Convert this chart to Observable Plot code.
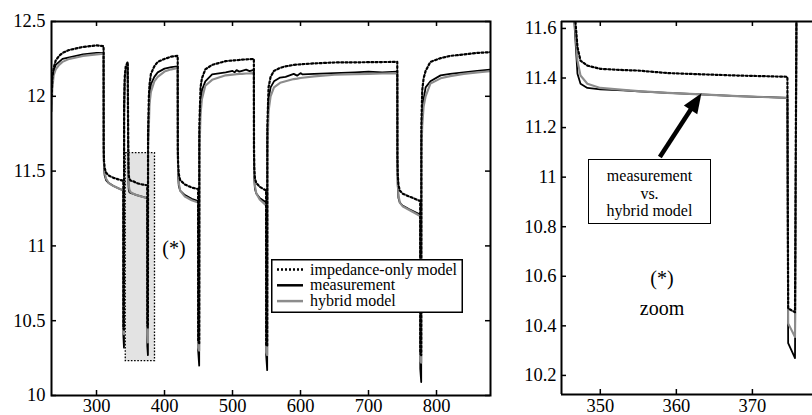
<!DOCTYPE html>
<html><head><meta charset="utf-8">
<script src="https://cdn.jsdelivr.net/npm/d3@7"></script>
<script src="https://cdn.jsdelivr.net/npm/@observablehq/plot@0.6"></script>
<style>
body{margin:0;background:#fff;}
#wrap{position:relative;width:812px;height:415px;overflow:hidden;display:flex;font-family:'Liberation Serif',serif;color:#000;background:#fff;}
.ann{position:absolute;white-space:nowrap;line-height:1;font-family:'Liberation Serif',serif;}
</style></head><body><div id="wrap"></div>
<script>
// ---- data (time in s, voltage in V) ----
const t = [234,235,237,240,245,250,260,270,280,290,300,310.4,
310.6,311,312,314,318,325,332,339.4,
339.5,340.4,
340.6,341.5,343,345.9,
346.6,347,347.4,348.3,350,353,355,358.8,363.2,368,374.6,
374.7,375.6,
375.8,377,378,380,385,390,400,410,419.4,
419.6,420,421,423,430,440,449.4,
449.5,451,
451.2,453,455,460,470,490,500,503,506,510,514,520,525,531.4,
531.6,532,533,535,540,549.4,
549.5,551,
551.2,553,556,561,570,578,590,595,600,603,620,650,680,700,720,742.3,
742.5,743,744,746,750,760,776,
776.1,777.5,
777.7,779,781,784,791,806,820,840,860,879.4];

const measurement = [11.95,12.10,12.17,12.21,12.23,12.25,12.26,12.27,12.28,12.285,12.29,12.29,
11.60,11.52,11.47,11.44,11.42,11.40,11.385,11.37,
10.40,10.32,
11.90,12.10,12.18,12.21,
11.62,11.417,11.377,11.36,11.354,11.35,11.346,11.34,11.334,11.327,11.32,
10.33,10.27,
11.70,11.90,12.00,12.08,12.13,12.16,12.185,12.195,12.20,
11.60,11.47,11.40,11.37,11.34,11.315,11.30,
10.30,10.20,
11.70,11.95,12.04,12.10,12.146,12.16,12.17,12.16,12.175,12.165,12.17,12.178,12.168,12.177,
11.60,11.45,11.38,11.35,11.32,11.29,
10.27,10.17,
11.70,11.98,12.06,12.10,12.125,12.13,12.15,12.138,12.155,12.146,12.15,12.155,12.16,12.165,12.16,12.165,
11.55,11.40,11.32,11.29,11.27,11.245,11.21,
10.18,10.09,
11.70,11.88,11.98,12.06,12.10,12.14,12.15,12.16,12.17,12.178];

const hybrid = [11.90,12.05,12.14,12.18,12.21,12.23,12.25,12.26,12.27,12.275,12.28,12.285,
11.65,11.55,11.49,11.45,11.42,11.40,11.385,11.37,
10.42,10.41,
11.85,12.07,12.16,12.20,
11.64,11.47,11.41,11.377,11.36,11.352,11.347,11.34,11.334,11.327,11.32,
10.41,10.355,
11.65,11.80,11.95,12.03,12.10,12.13,12.165,12.18,12.19,
11.62,11.50,11.42,11.37,11.33,11.305,11.29,
10.32,10.30,
11.60,11.88,11.98,12.07,12.11,12.14,12.145,12.146,12.148,12.15,12.15,12.152,12.153,12.155,
11.62,11.48,11.40,11.35,11.31,11.27,
10.29,10.27,
11.60,11.90,12.00,12.06,12.09,12.10,12.115,12.118,12.122,12.124,12.133,12.144,12.148,12.15,12.152,12.155,
11.58,11.43,11.34,11.29,11.265,11.24,11.20,
10.23,10.22,
11.60,11.80,11.93,12.00,12.085,12.12,12.135,12.15,12.16,12.168];

const impedanceOnly = [12.00,12.12,12.19,12.24,12.27,12.29,12.31,12.32,12.33,12.335,12.34,12.335,
11.66,11.57,11.52,11.49,11.47,11.455,11.445,11.435,
10.45,10.44,
11.95,12.13,12.20,12.23,
11.68,11.525,11.47,11.45,11.437,11.432,11.43,11.42,11.415,11.41,11.405,
10.47,10.455,
11.75,12.00,12.08,12.15,12.20,12.23,12.25,12.265,12.27,
11.65,11.55,11.48,11.44,11.41,11.39,11.38,
10.36,10.35,
11.80,12.06,12.12,12.18,12.21,12.235,12.24,12.24,12.242,12.243,12.245,12.247,12.248,12.25,
11.65,11.52,11.45,11.42,11.395,11.37,
10.34,10.33,
11.80,12.06,12.13,12.17,12.19,12.20,12.21,12.212,12.214,12.215,12.22,12.226,12.227,12.228,12.229,12.23,
11.60,11.48,11.41,11.37,11.35,11.33,11.30,
10.28,10.27,
11.80,12.04,12.12,12.17,12.23,12.255,12.27,12.28,12.29,12.295];

const xTicksLeft = [300,400,500,600,700,800];
const yTicksLeft = [10,10.5,11,11.5,12,12.5];
const xTicksRight = [350,360,370];
const yTicksRight = [10.2,10.4,10.6,10.8,11,11.2,11.4,11.6];
const xDomLeft = [233.8, 879.4];
const yDomLeft = [10, 12.5];
const xDomRight = [344.9, 377.9];
const yDomRight = [10.123, 11.628];

const zoomBox = [{x1:343, x2:386, y1:10.23, y2:11.62}];
const arrowShaft = [{x1:357.83, y1:11.081, x2:362.58, y2:11.305}];
const arrowHead = [{x:363.3, y:11.339}];

const legendItems = ["impedance-only model","measurement","hybrid model"];
const boxLines = ["measurement","vs.","hybrid model"];

// ---- build ----
const rows = t.map((x,i)=>({t:x, meas:measurement[i], hyb:hybrid[i], imp:impedanceOnly[i]}));
const fmt = d => String(d);
const FONT = "Liberation Serif";
const style = {fontFamily: "'Liberation Serif', serif", fontSize:"18px", background:"white", color:"black"};
const axisText = {tickSize:0, tickFormat:fmt, fontSize:18.5, fontFamily:FONT};

function lines(){
  return [
    Plot.line(rows,{x:"t",y:"meas",stroke:"#000",strokeWidth:1.8,clip:true}),
    Plot.line(rows,{x:"t",y:"hyb",stroke:"#8c8c8c",strokeWidth:2.1,clip:true}),
    Plot.line(rows,{x:"t",y:"imp",stroke:"#000",strokeWidth:2.2,strokeDasharray:"2,2.3",clip:true})
  ];
}

const HL = 415-21-20, WL = 510-51-20;
const left = Plot.plot({
  width:510,height:415,marginLeft:51,marginRight:20,marginTop:21,marginBottom:20,
  x:{domain:xDomLeft,axis:null}, y:{domain:yDomLeft,axis:null}, style,
  marks:[
    Plot.rect(zoomBox,{x1:"x1",x2:"x2",y1:"y1",y2:"y2",fill:"#e3e3e3",stroke:"#000",strokeWidth:1.3,strokeDasharray:"1.6,1.6"}),
    ...lines(),
    Plot.frame({stroke:"#000",strokeWidth:2}),
    Plot.ruleX(xTicksLeft,{insetTop:HL-5,strokeWidth:1.5}),
    Plot.ruleX(xTicksLeft,{insetBottom:HL-5,strokeWidth:1.5}),
    Plot.ruleY(yTicksLeft,{insetRight:WL-5,strokeWidth:1.5}),
    Plot.ruleY(yTicksLeft,{insetLeft:WL-5,strokeWidth:1.5}),
    Plot.axisX(xTicksLeft,{...axisText,tickPadding:3}),
    Plot.axisY(yTicksLeft,{...axisText,tickPadding:6})
  ]
});

const HR = 415-21-21, WR = 302-51;
const right = Plot.plot({
  width:302,height:415,marginLeft:51,marginRight:0,marginTop:21,marginBottom:21,
  x:{domain:xDomRight,axis:null}, y:{domain:yDomRight,axis:null}, style,
  marks:[
    ...lines(),
    Plot.ruleX([xDomRight[0]],{stroke:"#000",strokeWidth:2}),
    Plot.ruleY(yDomRight,{stroke:"#000",strokeWidth:2}),
    Plot.ruleX(xTicksRight,{insetTop:HR-5,strokeWidth:1.5}),
    Plot.ruleX(xTicksRight,{insetBottom:HR-5,strokeWidth:1.5}),
    Plot.ruleY(yTicksRight,{insetRight:WR-5,strokeWidth:1.5}),
    Plot.axisX(xTicksRight,{...axisText,tickPadding:4}),
    Plot.axisY(yTicksRight,{...axisText,tickPadding:5}),
    Plot.link(arrowShaft,{x1:"x1",y1:"y1",x2:"x2",y2:"y2",stroke:"#000",strokeWidth:4.5}),
    Plot.vector(arrowHead,{x:"x",y:"y",length:20,r:8,rotate:33,anchor:"end",shape:"spike",fill:"#000",stroke:"none"})
  ]
});

const wrap = document.getElementById("wrap");
wrap.append(left, right);

// legend (left panel)
const ns = "http://www.w3.org/2000/svg";
const leg = document.createElementNS(ns,"svg");
leg.setAttribute("width",192); leg.setAttribute("height",54);
leg.setAttribute("style","position:absolute;left:271px;top:259px;");
const styles = [
  {stroke:"#000", w:2.3, dash:"2,2"},
  {stroke:"#000", w:2.5, dash:null},
  {stroke:"#8c8c8c", w:2.5, dash:null}
];
let html = `<rect x="0.75" y="0.75" width="190.5" height="52.5" fill="#fff" stroke="#000" stroke-width="1.5"/>`;
legendItems.forEach((s,i)=>{
  const cy = 10.5 + i*15.8;
  const st = styles[i];
  html += `<line x1="6" x2="32" y1="${cy}" y2="${cy}" stroke="${st.stroke}" stroke-width="${st.w}" ${st.dash?`stroke-dasharray="${st.dash}"`:""}/>`;
  html += `<text x="39" y="${cy+5}" font-family="Liberation Serif" font-size="16" fill="#000">${s}</text>`;
});
leg.innerHTML = html;
wrap.append(leg);

function ann(text, cx, cy, size){
  const d = document.createElement("div");
  d.className = "ann";
  d.textContent = text;
  d.style.fontSize = size+"px";
  d.style.left = cx+"px"; d.style.top = cy+"px";
  d.style.transform = "translate(-50%,-50%)";
  wrap.append(d);
}
ann("(*)", 174, 248, 20);
ann("(*)", 662, 278, 20);
ann("zoom", 662, 308, 20);

const box = document.createElement("div");
box.style.cssText = "position:absolute;left:588px;top:159px;border:1.5px solid #000;background:#fff;text-align:center;font-family:'Liberation Serif',serif;font-size:16px;line-height:17.5px;padding-top:7px;box-sizing:border-box;height:65px;width:123px;";
box.innerHTML = boxLines.map(s=>`<div>${s}</div>`).join("");
wrap.append(box);
</script></body></html>
